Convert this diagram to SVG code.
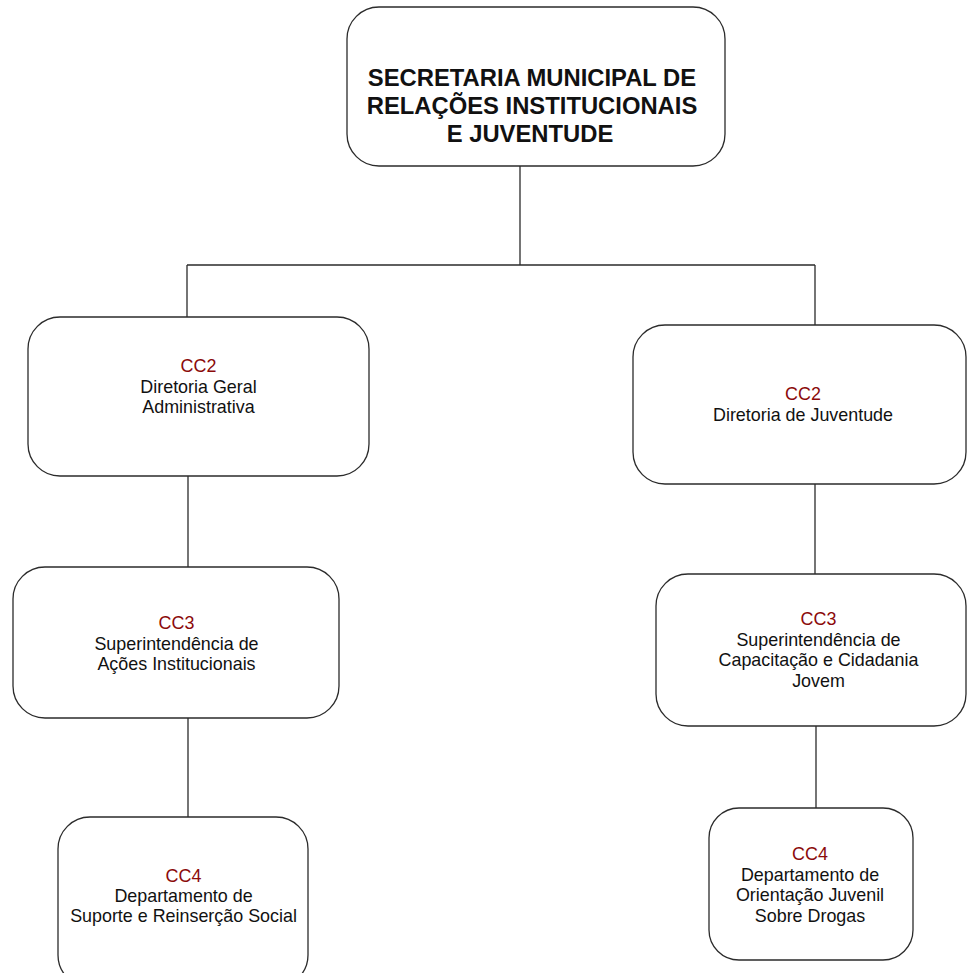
<svg xmlns="http://www.w3.org/2000/svg" width="967" height="973" viewBox="0 0 967 973">
  <style>
    .box { fill: #ffffff; stroke: #2b2b2b; stroke-width: 1.3; }
    .link { fill: none; stroke: #2b2b2b; stroke-width: 1.3; }
    .title { font-family: "Liberation Sans", Arial, sans-serif; font-weight: bold; font-size: 23.8px; fill: #111111; text-anchor: middle; }
    .lbl { font-family: "Liberation Sans", Arial, sans-serif; font-size: 17.9px; fill: #111111; text-anchor: middle; }
    .cc { fill: #8b0a0a; }
  </style>
  <rect width="967" height="973" fill="#ffffff"/>

  <g id="connectors">
    <path class="link" d="M520 166 V265 M187 265 H815 M187 265 V317 M815 265 V325"/>
    <path class="link" d="M188 476 V567 M188 718 V817"/>
    <path class="link" d="M815 484 V574 M816 726 V808"/>
  </g>

  <g id="secretaria">
    <rect class="box" x="347" y="7" width="378" height="159" rx="32"/>
    <text class="title" x="532" y="86">SECRETARIA MUNICIPAL DE</text>
    <text class="title" x="532" y="114">RELAÇÕES INSTITUCIONAIS</text>
    <text class="title" x="530" y="142">E JUVENTUDE</text>
  </g>

  <g id="diretoria-geral">
    <rect class="box" x="28" y="317" width="341" height="159" rx="32"/>
    <text class="lbl" x="198.5" y="372"><tspan class="cc">CC2</tspan><tspan x="198.5" dy="20.5">Diretoria Geral</tspan><tspan x="198.5" dy="20.5">Administrativa</tspan></text>
  </g>

  <g id="diretoria-juventude">
    <rect class="box" x="633" y="325" width="333" height="159" rx="32"/>
    <text class="lbl" x="803" y="400"><tspan class="cc">CC2</tspan><tspan x="803" dy="20.5">Diretoria de Juventude</tspan></text>
  </g>

  <g id="superintendencia-acoes">
    <rect class="box" x="13" y="567" width="326" height="151" rx="32"/>
    <text class="lbl" x="176.5" y="629"><tspan class="cc">CC3</tspan><tspan x="176.5" dy="20.5">Superintendência de</tspan><tspan x="176.5" dy="20.5">Ações Institucionais</tspan></text>
  </g>

  <g id="superintendencia-capacitacao">
    <rect class="box" x="656" y="574" width="310" height="152" rx="32"/>
    <text class="lbl" x="818.5" y="625"><tspan class="cc">CC3</tspan><tspan x="818.5" dy="20.7">Superintendência de</tspan><tspan x="818.5" dy="20.7">Capacitação e Cidadania</tspan><tspan x="818.5" dy="20.7">Jovem</tspan></text>
  </g>

  <g id="departamento-suporte">
    <rect class="box" x="58" y="817" width="250" height="170" rx="32"/>
    <text class="lbl" x="183.5" y="882"><tspan class="cc">CC4</tspan><tspan x="183.5" dy="20">Departamento de</tspan><tspan x="183.5" dy="20">Suporte e Reinserção Social</tspan></text>
  </g>

  <g id="departamento-orientacao">
    <rect class="box" x="709" y="808" width="204" height="152" rx="30"/>
    <text class="lbl" x="810" y="860"><tspan class="cc">CC4</tspan><tspan x="810" dy="20.5">Departamento de</tspan><tspan x="810" dy="20.5">Orientação Juvenil</tspan><tspan x="810" dy="20.5">Sobre Drogas</tspan></text>
  </g>
</svg>
